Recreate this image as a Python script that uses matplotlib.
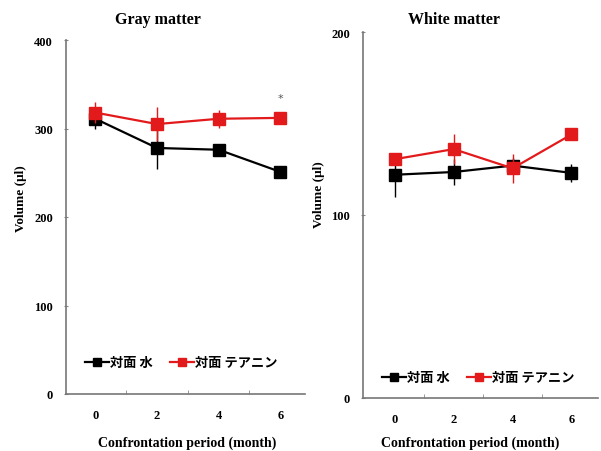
import matplotlib
matplotlib.use("Agg")
import matplotlib.pyplot as plt
from matplotlib.lines import Line2D
import numpy as np

months = [0, 2, 4, 6]

gray_water = [311, 278, 276, 251]
gray_water_err = [11, 24, 3, 4]
gray_thea = [318, 305, 311, 312]
gray_thea_err = [12, 19, 10, 3]

white_water = [122, 123.5, 127, 123]
white_water_err = [12, 7, 4, 5]
white_thea = [130.5, 136, 125.5, 144]
white_thea_err = [3, 8, 8, 2]

label_water = "対面 水"
label_thea = "対面 テアニン"

serif = ["Liberation Serif", "DejaVu Serif"]
jp = ["Noto Sans CJK JP", "DejaVu Sans"]

W, H = 601, 452
fig = plt.figure(figsize=(6.01, 4.52), dpi=100)
ax1 = fig.add_axes([66/W, 1-395/H, (305-66)/W, (395-41)/H])
ax2 = fig.add_axes([363/W, 1-399/H, (598-363)/W, (399-33)/H])

red = "#e31a1c"


def draw(ax, w, we, t, te, ymax, yticks, xlim, title, tx, xlx, yl, legy):
    ax.errorbar(months, w, yerr=we, color="black", marker="s", ms=8.5,
                lw=1.6, elinewidth=1, capsize=0, zorder=3)
    ax.errorbar(months, t, yerr=te, color=red, marker="s", ms=8.5,
                lw=1.6, elinewidth=1, capsize=0, zorder=4)
    ax.set_xlim(*xlim)
    ax.set_ylim(0, ymax)
    ax.set_yticks(yticks)
    ax.set_xticks(months)
    ax.set_xticks([1, 3, 5], minor=True)
    ax.tick_params(axis="x", which="major", length=0, pad=11)
    ax.tick_params(axis="x", which="minor", length=3, direction="in", color="#888888")
    ax.tick_params(axis="y", length=3, direction="inout", color="#888888", pad=8)
    for lab in ax.get_xticklabels() + ax.get_yticklabels():
        lab.set_fontfamily(serif)
        lab.set_fontweight("bold")
        lab.set_fontsize(9)
    for s in ["top", "right"]:
        ax.spines[s].set_visible(False)
    for s in ["left", "bottom"]:
        ax.spines[s].set_color("#777777")
        ax.spines[s].set_linewidth(1.2)
    fig.text(tx/W, 1-20/H, title, family=serif, fontweight="bold",
             fontsize=11.5, ha="center", va="center")
    ax.set_xlabel("Confrontation period (month)", family=serif,
                  fontweight="bold", fontsize=10, va="center")
    ax.xaxis.set_label_coords(xlx/W, 1-443/H, transform=fig.transFigure)
    ax.set_ylabel("Volume (μl)", family=serif, fontweight="bold",
                  fontsize=9.5, va="center")
    ax.yaxis.set_label_coords(yl[0]/W, 1-yl[1]/H, transform=fig.transFigure)
    handles = [Line2D([], [], color="black", marker="s", ms=6, lw=1.6),
               Line2D([], [], color=red, marker="s", ms=6, lw=1.6)]
    ax.legend(handles, [label_water, label_thea], loc="center left",
              bbox_to_anchor=(0.03, legy), ncol=2, frameon=False,
              handlelength=1.8, handletextpad=0.1, columnspacing=1.3,
              prop={"family": jp, "size": 9.5, "weight": "bold"})
    return ax


draw(ax1, gray_water, gray_water_err, gray_thea, gray_thea_err,
     400, [0, 100, 200, 300, 400], (-0.95, 6.8), "Gray matter",
     158, 187, (21, 199), 0.09)
ax1.text(6, 335, "*", ha="center", va="center", fontsize=8, color="#555555")

draw(ax2, white_water, white_water_err, white_thea, white_thea_err,
     200, [0, 100, 200], (-1.08, 6.9), "White matter",
     454, 470, (319, 195), 0.057)

fig.savefig("out.png", dpi=100)
